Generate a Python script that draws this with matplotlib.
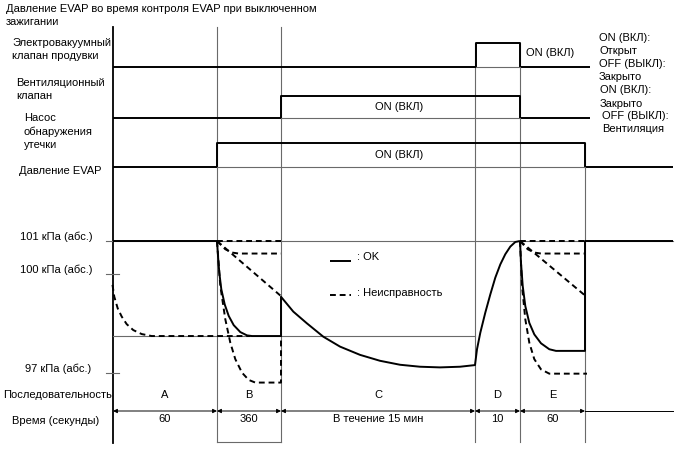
"""Timing diagram: EVAP pressure during the key-off EVAP monitor."""

import matplotlib
matplotlib.use("Agg")
import matplotlib.pyplot as plt

plt.rcParams["font.family"] = ["Liberation Sans", "DejaVu Sans"]

# diagram grid (width x height units, y grows downward)
W, H = 688, 463

# phase boundaries along the time axis
phase_edges = [113, 217, 281, 475, 520, 585]
phase_names = ["A", "B", "C", "D", "E"]
phase_times = ["60", "360", "В течение 15 мин", "10", "60"]

# on/off signals: edges and states (0 = OFF, 1 = ON)
purge_edges = [113, 476, 520, 590]
purge_states = [0, 1, 0]
vent_edges = [113, 281, 520, 590]
vent_states = [0, 1, 0]
pump_edges = [113, 217, 585, 673]
pump_states = [0, 1, 0]
# (low, high) level of each signal row
purge_level = (67, 43)
vent_level = (118, 96)
pump_level = (167, 143)

# pressure scale: 100 kPa at row 274, 33 rows per kPa
P_ROW_100 = 274
ROWS_PER_KPA = 33
p_ticks = [101, 100, 97]
p_tick_labels = ["101 кПа (абс.)", "100 кПа (абс.)", "97 кПа (абс.)"]
p_ref = 98.12  # threshold line

# pressure curves, kPa
a_ng_x = [112.5, 114.3, 117.7, 121.7, 126.7, 133.3, 141.7, 151.7, 250]
a_ng_p = [99.67, 99.31, 98.96, 98.71, 98.48, 98.30, 98.18, 98.12, 98.12]

ok_x = [113, 217,
        217, 218, 219.3, 221.3, 224.7, 228.7, 233.7, 240.3, 247, 252, 281,
        281, 293.3, 306.7, 323.3, 340, 360, 380, 400, 420, 440, 460, 475,
        477, 480.3, 485.3, 490.3, 495.3, 500.3, 505.3, 510.3, 515.3, 520]
ok_p = [101.0, 101.0,
        101.0, 100.55, 100.04, 99.54, 99.08, 98.73, 98.45, 98.24, 98.14, 98.12, 98.12,
        99.31, 98.86, 98.51, 98.10, 97.80, 97.55, 97.37, 97.25, 97.19, 97.17, 97.19, 97.24,
        97.72, 98.22, 98.83, 99.38, 99.89, 100.29, 100.60, 100.83, 100.97, 101.0]

b_ng_steep_x = [217, 220.3, 225.3, 230.3, 235.3, 242, 248.7, 255.3, 281, 281]
b_ng_steep_p = [101.0, 99.64, 98.63, 97.92, 97.42, 97.01, 96.79, 96.71, 96.71, 98.12]
b_ng_upper_x = [217, 225.3, 232, 238.7, 281]
b_ng_upper_p = [101.0, 100.75, 100.65, 100.62, 100.62]
b_ng_line_x = [217, 281]
b_ng_line_p = [101.0, 99.33]
b_ng_flat_x = [217, 281]
b_ng_flat_p = [101.0, 101.0]

e_ok_x = [520, 521, 522.7, 525.3, 529.3, 534.3, 541, 549.3, 556, 585, 585, 673]
e_ok_p = [101.0, 100.34, 99.64, 99.03, 98.52, 98.17, 97.90, 97.72, 97.67, 97.67, 101.0, 101.0]
e_ng_steep_x = [520, 522, 525.3, 529.3, 534.3, 541, 549.3, 587]
e_ng_steep_p = [101.0, 99.64, 98.63, 97.92, 97.42, 97.11, 96.98, 96.98]
e_ng_upper_x = [520, 527.7, 534.3, 541, 585]
e_ng_upper_p = [101.0, 100.75, 100.65, 100.62, 100.62]
e_ng_line_x = [520, 585]
e_ng_line_p = [101.0, 99.35]
e_ng_flat_x = [520, 585]
e_ng_flat_p = [101.0, 101.0]

THICK = dict(color="black", lw=1.4, solid_capstyle="butt", solid_joinstyle="round")
DASH = dict(color="black", lw=1.4, ls=(0, (3, 2)), dash_joinstyle="round")
THIN = dict(color="#6a6a6a", lw=0.8)
FS = 8

fig = plt.figure(figsize=(W / 100, H / 100), dpi=100)
ax = fig.add_axes([0, 0, 1, 1])
ax.set_xlim(0, W)
ax.set_ylim(H, 0)
ax.axis("off")

# pressure axes sharing x, y in kPa
axp = fig.add_axes([0, 0, 1, 1], sharex=ax)
axp.set_ylim(100 - (H - P_ROW_100) / ROWS_PER_KPA, 100 + P_ROW_100 / ROWS_PER_KPA)
axp.axis("off")
axp.patch.set_alpha(0)


def row(level, state):
    return level[1] if state else level[0]


def draw_signal(edges, states, level):
    xs, ys = [], []
    for i, s in enumerate(states):
        xs += [edges[i], edges[i + 1]]
        ys += [row(level, s), row(level, s)]
    ax.plot(xs, ys, **THICK)
    # thin baseline under ON parts
    for i, s in enumerate(states):
        if s:
            ax.plot([edges[i], edges[i + 1]], [level[0], level[0]], **THIN)


# vertical grid lines
ax.plot([113, 113], [27, 443], color="black", lw=1.3)
for x, top in zip(phase_edges[1:], [27, 27, 43, 43, 143]):
    ax.plot([x, x], [top, 442], **THIN)
ax.plot([217, 281], [442, 442], **THIN)

draw_signal(purge_edges, purge_states, purge_level)
draw_signal(vent_edges, vent_states, vent_level)
draw_signal(pump_edges, pump_states, pump_level)

# pressure section
axp.plot([106, 673], [101, 101], **THIN)
axp.plot([113, 475], [p_ref, p_ref], **THIN)
for p in p_ticks[1:]:
    axp.plot([106, 119], [p, p], **THIN)

axp.plot(a_ng_x, a_ng_p, **DASH)
for xs, ps in [(b_ng_flat_x, b_ng_flat_p), (b_ng_upper_x, b_ng_upper_p),
               (b_ng_line_x, b_ng_line_p), (b_ng_steep_x, b_ng_steep_p),
               (e_ng_flat_x, e_ng_flat_p), (e_ng_upper_x, e_ng_upper_p),
               (e_ng_line_x, e_ng_line_p), (e_ng_steep_x, e_ng_steep_p)]:
    axp.plot(xs, ps, **DASH)
axp.plot(ok_x, ok_p, **THICK)
axp.plot(e_ok_x, e_ok_p, **THICK)

# legend
ax.plot([330, 351], [261, 261], **THICK)
ax.text(357, 257, ": OK", fontsize=FS, va="center")
ax.plot([330, 351], [295, 295], **DASH)
ax.text(357, 293, ": Неисправность", fontsize=FS, va="center")

# time arrows
for x0, x1 in zip(phase_edges[:-1], phase_edges[1:]):
    ax.annotate("", xy=(x1, 411), xytext=(x0, 411),
                arrowprops=dict(arrowstyle="<|-|>", color="black", lw=0.7,
                                mutation_scale=6, shrinkA=0, shrinkB=0))
ax.plot([585, 673], [411, 411], color="black", lw=0.7)

for x0, x1, name, t in zip(phase_edges[:-1], phase_edges[1:], phase_names, phase_times):
    xm = (x0 + x1) / 2
    ax.text(xm, 395, name, fontsize=FS, ha="center", va="center")
    ax.text(xm, 419, t, fontsize=FS, ha="center", va="center")

# left labels
left_labels = [
    (6, 9, "Давление EVAP во время контроля EVAP при выключенном"),
    (6, 22, "зажигании"),
    (12, 43, "Электровакуумный"), (12, 56, "клапан продувки"),
    (16, 83, "Вентиляционный"), (16, 96, "клапан"),
    (24, 118, "Насос"), (24, 132, "обнаружения"), (24, 145, "утечки"),
    (19, 171, "Давление EVAP"),
    (3, 395, "Последовательность"),
    (12, 421, "Время (секунды)"),
]
for x, y, s in left_labels:
    ax.text(x, y, s, fontsize=FS, va="center")

for p, s, x in zip(p_ticks, p_tick_labels, [20, 20, 25]):
    axp.text(x, p + 0.12, s, fontsize=FS, va="center")

# right labels
right_labels = [
    (599, 38, "ON (ВКЛ):"), (599, 51, "Открыт"),
    (599, 64, "OFF (ВЫКЛ):"), (599, 77, "Закрыто"),
    (600, 90, "ON (ВКЛ):"), (600, 104, "Закрыто"),
    (602, 116, "OFF (ВЫКЛ):"), (602, 129, "Вентиляция"),
]
for x, y, s in right_labels:
    ax.text(x, y, s, fontsize=FS, va="center")

ax.text(526, 53, "ON (ВКЛ)", fontsize=FS, va="center")
ax.text(399, 107, "ON (ВКЛ)", fontsize=FS, ha="center", va="center")
ax.text(399, 155, "ON (ВКЛ)", fontsize=FS, ha="center", va="center")

fig.savefig("out.png", dpi=100)
plt.close(fig)
